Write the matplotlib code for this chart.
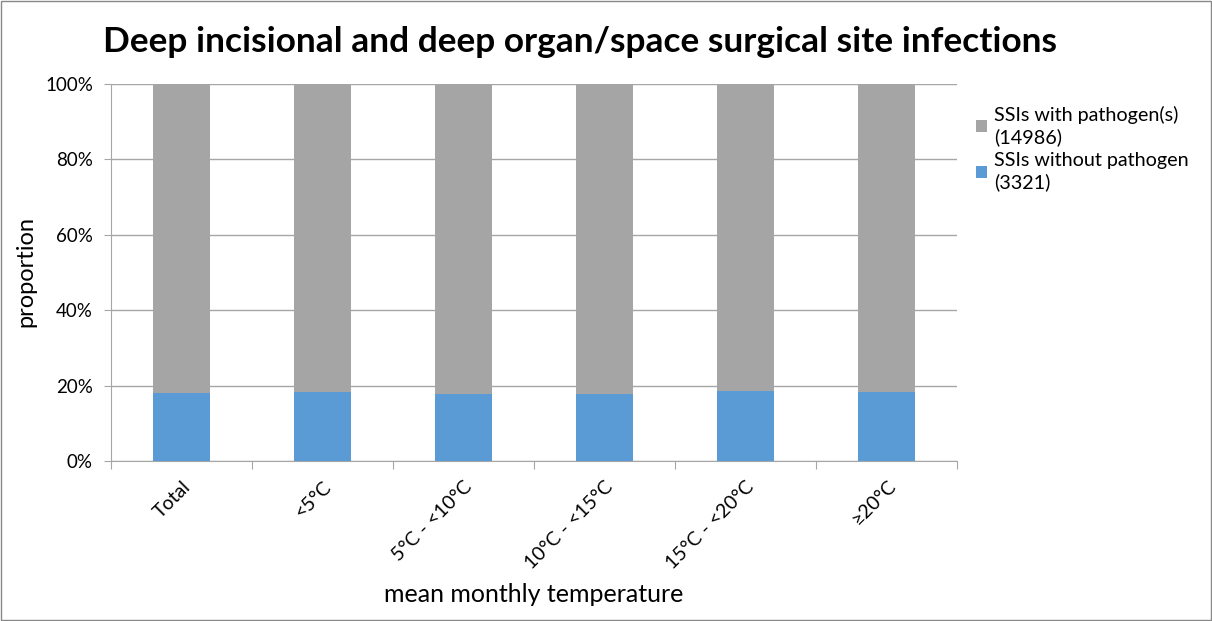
import matplotlib
matplotlib.use("Agg")
import matplotlib.pyplot as plt
import numpy as np
from matplotlib.ticker import FixedLocator, PercentFormatter

categories = ["Total", "<5°C", "5°C - <10°C", "10°C - <15°C", "15°C - <20°C", "≥20°C"]
without_pathogen = [18.1, 18.2, 17.7, 17.9, 18.5, 18.3]
with_pathogen = [100 - v for v in without_pathogen]
label_with = "SSIs with pathogen(s)\n(14986)"
label_without = "SSIs without pathogen\n(3321)"

plt.rcParams['font.family'] = ['Lato', 'DejaVu Sans']

fig = plt.figure(figsize=(12.12, 6.21), dpi=100)
ax = fig.add_axes([111/1212, 1 - 461/621, (957-111)/1212, (461-84)/621])

x = np.arange(len(categories))
blue = "#5b9bd5"
grey = "#a5a5a5"
ax.bar(x, without_pathogen, width=0.4, color=blue, label=label_without, zorder=3)
ax.bar(x, with_pathogen, width=0.4, bottom=without_pathogen, color=grey, label=label_with, zorder=3)

ax.set_xlim(-0.5, len(categories) - 0.5)
ax.set_ylim(0, 100)
ax.yaxis.set_major_locator(FixedLocator([0, 20, 40, 60, 80, 100]))
ax.yaxis.set_major_formatter(PercentFormatter(decimals=0))
ax.grid(axis='y', color='#a6a6a6', linewidth=1, zorder=0)

ax.set_xticks(np.arange(-0.5, len(categories)), labels=[])
ax.set_xticks(x, minor=True)
ax.set_xticklabels(categories, minor=True, rotation=45, ha='right', rotation_mode='anchor', fontsize=14)
ax.tick_params(axis='x', which='minor', length=0, pad=12)
ax.tick_params(axis='x', which='major', length=6, color='#a6a6a6')
ax.tick_params(axis='y', length=5, color='#a6a6a6', labelsize=13.5, pad=8)

for s in ['top', 'right']:
    ax.spines[s].set_visible(False)
for s in ['left', 'bottom']:
    ax.spines[s].set_color('#a6a6a6')

ax.set_ylabel("proportion", fontsize=17, va='center')
ax.yaxis.set_label_coords(26/1212, 1 - 272/621, transform=fig.transFigure)
ax.set_xlabel("mean monthly temperature", fontsize=18)
ax.xaxis.set_label_coords(534/1212, 1 - 595/621, transform=fig.transFigure)
ax.xaxis.label.set_va('center')

fig.text(580/1212, 1 - 42/621, "Deep incisional and deep organ/space surgical site infections",
         ha='center', va='center', fontsize=25.4, fontweight='bold')

handles, labels = ax.get_legend_handles_labels()
leg = fig.legend(handles[::-1], labels[::-1], loc='upper left', bbox_to_anchor=(968/1212, 1 - 98/621),
                 frameon=False, fontsize=14.2, handlelength=0.55, handleheight=0.55, handletextpad=0.35,
                 labelspacing=0.3, borderaxespad=0)
for t in leg.get_texts():
    t.set_linespacing(1.3)

fig.patches.append(plt.Rectangle((0.001, 0.001), 0.998, 0.997, transform=fig.transFigure,
                                 fill=False, edgecolor='#888888', linewidth=1))

fig.savefig("out.png", dpi=100)
